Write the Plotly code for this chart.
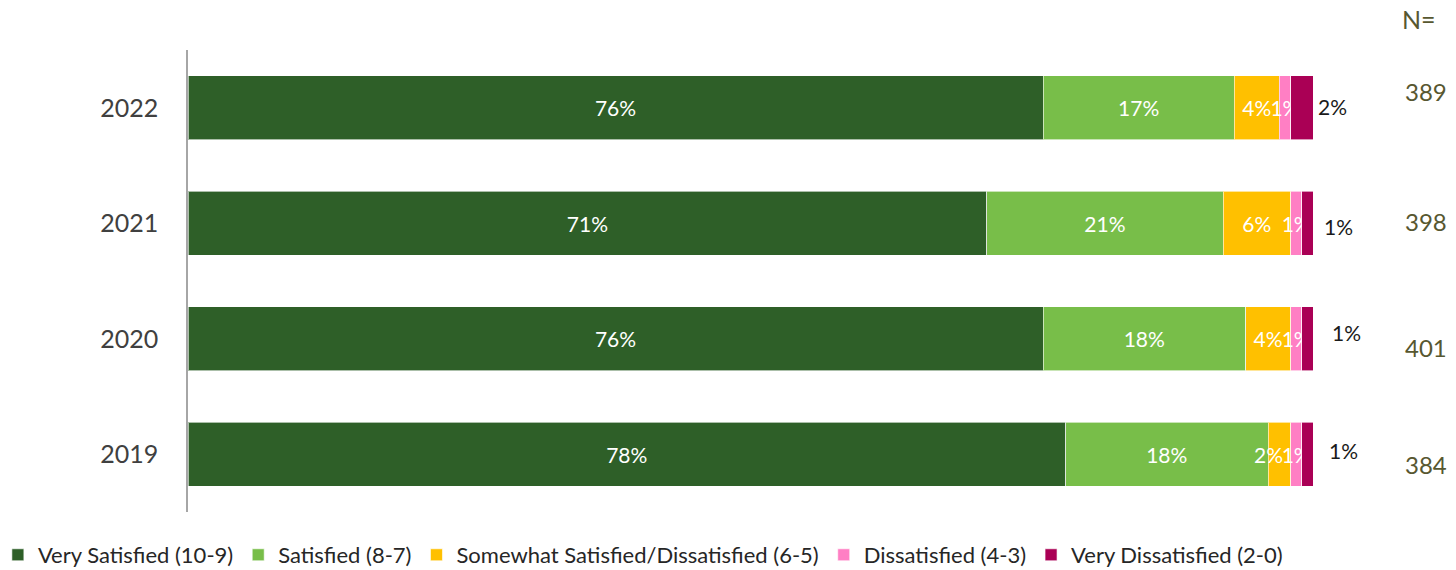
import plotly.graph_objects as go

years = ["2022", "2021", "2020", "2019"]
series_names = [
    "Very Satisfied (10-9)",
    "Satisfied (8-7)",
    "Somewhat Satisfied/Dissatisfied (6-5)",
    "Dissatisfied (4-3)",
    "Very Dissatisfied (2-0)",
]
very_satisfied = [76, 71, 76, 78]
satisfied = [17, 21, 18, 18]
somewhat = [4, 6, 4, 2]
dissatisfied = [1, 1, 1, 1]
very_dissatisfied = [2, 1, 1, 1]
n_values = [389, 398, 401, 384]

colors = ["#2E5F28", "#78BE49", "#FFC000", "#FF7FC4", "#AA0055"]
font_family = "Lato, 'Open Sans', sans-serif"

series = [very_satisfied, satisfied, somewhat, dissatisfied, very_dissatisfied]

# labels inside bars; the tiny 2019 "somewhat" label is drawn separately (shifted left like the original)
inside_text = []
for i, vals in enumerate(series):
    if i == 4:
        inside_text.append(None)
    elif i == 2:
        inside_text.append([f"{v}%" if v > 2 else "" for v in vals])
    else:
        inside_text.append([f"{v}%" for v in vals])

fig = go.Figure()
for i, (name, vals, col) in enumerate(zip(series_names, series, colors)):
    fig.add_trace(go.Bar(
        y=years, x=vals, name=name, orientation="h",
        marker=dict(color=col, line=dict(color="rgba(255,255,255,0.6)", width=1)),
        text=inside_text[i],
        textposition="inside" if inside_text[i] is not None else "none",
        insidetextanchor="middle",
        textangle=0,
        constraintext="none",
        textfont=dict(color="white", size=21, family=font_family),
        hoverinfo="skip",
    ))

# small "somewhat" labels that do not fit: centred on the segment's left edge
for idx, v in enumerate(somewhat):
    if v <= 2:
        left = very_satisfied[idx] + satisfied[idx]
        fig.add_annotation(x=left, y=idx, xref="x", yref="y", text=f"{v}%",
                           showarrow=False, xanchor="center",
                           font=dict(size=21, color="white", family=font_family))

# outside labels for the last segment (y given as category index)
out_shift = [3, 9, 17, 14]
out_yshift = [1, -3, 6, 4]
for idx, (v, xs, ys) in enumerate(zip(very_dissatisfied, out_shift, out_yshift)):
    fig.add_annotation(x=100, y=idx, xref="x", yref="y", text=f"{v}%",
                       showarrow=False, xanchor="left", xshift=xs, yshift=ys,
                       font=dict(size=21, color="#1a1a1a", family=font_family))

# N column
n_yshift = [16, 2, -9, -10]
for idx, (n, ys) in enumerate(zip(n_values, n_yshift)):
    fig.add_annotation(x=1.1004, y=idx, xref="paper", yref="y", text=str(n),
                       showarrow=False, xanchor="center", yshift=ys,
                       font=dict(size=24, color="#575730", family=font_family))
fig.add_annotation(x=1.0945, y=1.0, xref="paper", yref="paper", text="N=",
                   showarrow=False, xanchor="center", yanchor="middle", yshift=31,
                   font=dict(size=25, color="#575730", family=font_family))

fig.update_layout(
    width=1456, height=570,
    barmode="stack", bargap=0.446,
    plot_bgcolor="white", paper_bgcolor="white",
    margin=dict(l=188, r=143, t=50, b=58, autoexpand=False),
    font=dict(family=font_family),
    uniformtext=dict(minsize=21, mode="show"),
    showlegend=True,
    legend=dict(orientation="h", x=-0.169, xanchor="left", y=-0.093, yanchor="middle",
                font=dict(size=22, color="#262626", family=font_family),
                traceorder="normal", itemwidth=30),
    xaxis=dict(range=[0, 100], visible=False, fixedrange=True),
    yaxis=dict(type="category", range=[3.5, -0.5], autorange=False, showline=True,
               linecolor="#a6a6a6", linewidth=1.5, ticks="",
               ticklabelstandoff=23, showgrid=False, fixedrange=True,
               tickfont=dict(size=25, color="#404040", family=font_family)),
)

fig.write_html("out.html", config={"displayModeBar": False},
               post_script="document.body.style.margin='0px';")
